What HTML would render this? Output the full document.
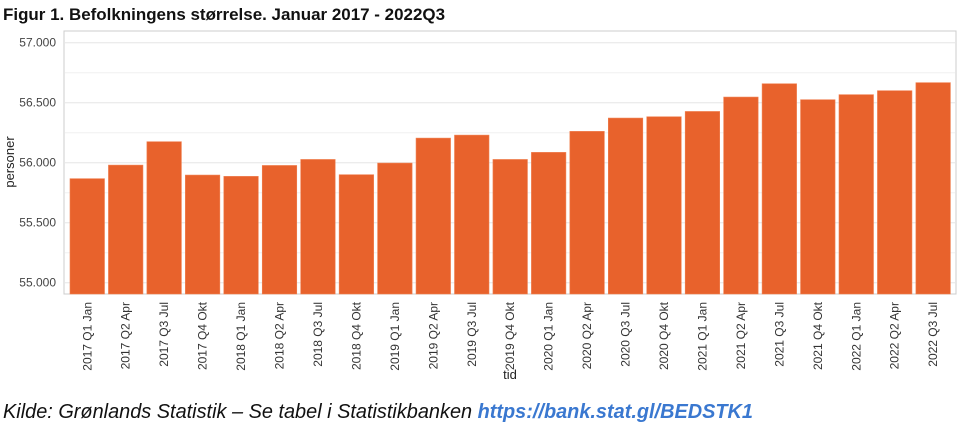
<!DOCTYPE html>
<html><head><meta charset="utf-8">
<style>
body{margin:0;background:#fff;width:960px;height:438px;overflow:hidden;font-family:"Liberation Sans",sans-serif;}
svg{display:block}
</style></head>
<body>
<svg id="chart" width="960" height="438">
<text x="3" y="20" font-size="17" font-weight="bold" fill="#111" textLength="442" lengthAdjust="spacingAndGlyphs">Figur 1. Befolkningens størrelse. Januar 2017 - 2022Q3</text>
<rect x="64" y="31" width="892" height="263" fill="#fff" stroke="#ccc"/>
<g id="grid"></g>
<g id="bars"></g>
<g id="xlabels"></g>
<text x="14" y="162" font-size="13" fill="#222" transform="rotate(-90 14 162)" text-anchor="middle">personer</text>
<text x="510" y="379" font-size="13" fill="#222" text-anchor="middle">tid</text>
<text x="3" y="418" font-size="20" font-style="italic" fill="#111" textLength="750" lengthAdjust="spacingAndGlyphs">Kilde: Grønlands Statistik – Se tabel i Statistikbanken <tspan fill="#3a78d0" font-weight="bold">https://bank.stat.gl/BEDSTK1</tspan></text>
</svg>
<script>
const categories=["2017 Q1 Jan","2017 Q2 Apr","2017 Q3 Jul","2017 Q4 Okt","2018 Q1 Jan","2018 Q2 Apr","2018 Q3 Jul","2018 Q4 Okt","2019 Q1 Jan","2019 Q2 Apr","2019 Q3 Jul","2019 Q4 Okt","2020 Q1 Jan","2020 Q2 Apr","2020 Q3 Jul","2020 Q4 Okt","2021 Q1 Jan","2021 Q2 Apr","2021 Q3 Jul","2021 Q4 Okt","2022 Q1 Jan","2022 Q2 Apr","2022 Q3 Jul"];
const values=[55867,55980,56175,55897,55886,55977,56027,55900,55997,56205,56230,56027,56086,56261,56372,56383,56427,56547,56658,56525,56567,56600,56667];
const tickValues=[55000,55500,56000,56500,57000];
const tickLabels=["55.000","55.500","56.000","56.500","57.000"];
const minorTicks=[55250,55750,56250,56750];
const NS="http://www.w3.org/2000/svg";
const yScale=v=>282.7-(v-55000)*0.12;
const plotBottom=294, step=38.45, x0=70, bw=34.5;
const xScale=i=>x0+i*step;
function mk(tag,attrs,parent){const e=document.createElementNS(NS,tag);for(const k in attrs)e.setAttribute(k,attrs[k]);parent.appendChild(e);return e;}
const grid=document.getElementById('grid');
minorTicks.forEach(v=>{const l=mk('line',{x1:65,x2:955,y1:yScale(v),y2:yScale(v),stroke:'#f0f0f0'},grid);

});
tickValues.forEach((v,i)=>{const l=mk('line',{x1:65,x2:955,y1:yScale(v),y2:yScale(v),stroke:'#e6e6e6'},grid);


const t=mk('text',{x:56,y:yScale(v)+4,'font-size':12,fill:'#444','text-anchor':'end'},grid);


t.textContent=tickLabels[i];});
const bars=document.getElementById('bars'),xl=document.getElementById('xlabels');
values.forEach((v,i)=>{const y=yScale(v);
const r=mk('rect',{x:xScale(i),y:y,width:bw,height:plotBottom-y,fill:'#e8622c',stroke:'#f08050','stroke-width':0.6},bars);


const cx=xScale(i)+bw/2+4;
const t=mk('text',{x:cx,y:302,'font-size':12,fill:'#333','text-anchor':'end',transform:`rotate(-90 ${cx} 302)`},xl);


t.textContent=categories[i];});
</script>
</body></html>
